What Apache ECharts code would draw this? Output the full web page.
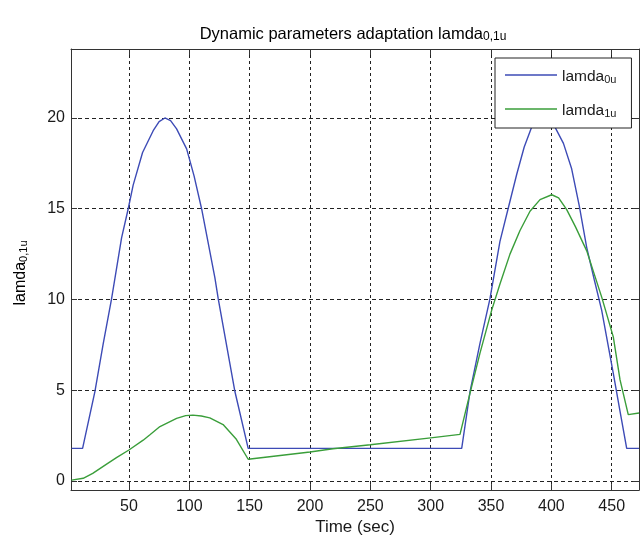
<!DOCTYPE html>
<html>
<head>
<meta charset="utf-8">
<script src="https://cdn.jsdelivr.net/npm/echarts@6/dist/echarts.min.js"></script>
<style>
  html, body { margin: 0; padding: 0; background: #fff; }
  #chart { width: 640px; height: 541px; }
</style>
</head>
<body>
<div id="chart"></div>
<script>
// lamda_0u trace: time (s) and value
const lamda0uTime = [2.5, 11.6, 21.8, 28.7, 35.6, 43.9, 49.4, 53.5, 61.3, 70.1, 75, 79.8, 84.5, 89.5, 97.8, 104, 110.2, 121.2, 124, 137.8, 148.8, 200, 250, 300, 325.7, 332.6, 340.8, 349.1, 357.4, 364.3, 371.3, 377.5, 383.7, 388.5, 393.4, 398, 403, 410, 416.8, 423, 429.3, 435.5, 441.7, 451.3, 457, 462.4, 472.6];
const lamda0uValue = [1.8, 1.8, 4.93, 7.57, 10.03, 13.4, 15.0, 16.3, 18.1, 19.3, 19.8, 20.0, 19.85, 19.4, 18.3, 16.8, 15.0, 11.2, 10.03, 4.93, 1.8, 1.8, 1.8, 1.8, 1.8, 4.93, 7.57, 10.03, 13.2, 15.04, 16.9, 18.4, 19.5, 19.9, 20.0, 19.9, 19.5, 18.6, 17.2, 15.2, 12.86, 11.1, 9.4, 5.93, 3.8, 1.8, 1.8];

// lamda_1u trace: time (s) and value
const lamda1uTime = [2.5, 12.1, 20, 31.5, 40, 50, 61.8, 67.4, 75.7, 89.5, 97, 103, 110, 117, 128, 139, 148.8, 200, 219, 250, 300, 324.3, 332.6, 340.8, 350.5, 357.4, 365.7, 374, 382.3, 390.6, 400.3, 406, 412.7, 420, 429.3, 441.7, 451.3, 456.9, 463.7, 472.6];
const lamda1uValue = [0.05, 0.15, 0.42, 0.93, 1.3, 1.71, 2.25, 2.55, 3.0, 3.45, 3.6, 3.63, 3.58, 3.48, 3.11, 2.3, 1.2, 1.6, 1.78, 2.0, 2.38, 2.57, 4.84, 7.03, 9.4, 10.85, 12.5, 13.8, 14.86, 15.5, 15.77, 15.6, 14.95, 14.0, 12.68, 10.13, 7.94, 5.57, 3.66, 3.75];

const xTicks = [50, 100, 150, 200, 250, 300, 350, 400, 450];
const yTicks = [0, 5, 10, 15, 20];

const seriesNames = ['lamda0u', 'lamda1u'];
const seriesSubs = { lamda0u: '0u', lamda1u: '1u' };

const zip = (xs, ys) => xs.map((x, i) => [x, ys[i]]);

const FONT = 'Liberation Sans, Arial, sans-serif';
const INK = '#1a1a1a';
const xRange = { min: 2, max: 472.6 };
const yRange = { min: -0.5, max: 23.8 };

const makeRich = (size, subSize) => ({
  a: { fontFamily: FONT, fontSize: size, color: INK, lineHeight: 20, verticalAlign: 'bottom' },
  s: { fontFamily: FONT, fontSize: subSize, color: INK, lineHeight: 6, verticalAlign: 'bottom' }
});

const gridLine = (dash) => ({
  show: true,
  lineStyle: { color: '#222', width: 1, type: dash }
});

const chart = echarts.init(document.getElementById('chart'), null, { renderer: 'canvas' });

chart.setOption({
  animation: false,
  backgroundColor: '#fff',
  grid: { left: 71, right: 1, top: 49, bottom: 47, containLabel: false },
  graphic: [
    {
      type: 'text', x: 353, y: 33,
      style: {
        text: '{a|Dynamic parameters adaptation lamda}{s|0,1u}',
        rich: makeRich(16.5, 12), align: 'center', verticalAlign: 'middle'
      }
    },
    {
      type: 'text', x: 19, y: 273, rotation: Math.PI / 2,
      style: {
        text: '{a|lamda}{s|0,1u}',
        rich: makeRich(16, 11), align: 'center', verticalAlign: 'middle'
      }
    }
  ],
  legend: {
    data: seriesNames,
    orient: 'vertical',
    left: 495, top: 58,
    padding: [11, 15, 9, 10],
    itemGap: 18,
    icon: 'rect',
    itemWidth: 52, itemHeight: 1.5,
    backgroundColor: '#fff',
    borderColor: '#222', borderWidth: 1, borderRadius: 0,
    formatter: (name) => '{a|lamda}{s|' + seriesSubs[name] + '}',
    textStyle: { rich: makeRich(15.5, 11) }
  },
  xAxis: [
    {
      type: 'value', position: 'bottom', ...xRange,
      name: 'Time (sec)', nameLocation: 'middle', nameGap: 27,
      nameTextStyle: { fontFamily: FONT, fontSize: 17, color: INK },
      axisLine: { show: true, onZero: false, lineStyle: { color: '#333', width: 1 } },
      axisTick: { show: true, inside: true, length: 6, customValues: xTicks, lineStyle: { color: '#333' } },
      axisLabel: { show: true, customValues: xTicks, margin: 8, fontFamily: FONT, fontSize: 16, color: INK },
      splitLine: gridLine([3, 3])
    },
    {
      type: 'value', position: 'top', ...xRange,
      axisLine: { show: true, onZero: false, lineStyle: { color: '#333', width: 1 } },
      axisTick: { show: true, inside: true, length: 6, customValues: xTicks, lineStyle: { color: '#333' } },
      axisLabel: { show: false },
      splitLine: { show: false }
    }
  ],
  yAxis: [
    {
      type: 'value', position: 'left', ...yRange,
      axisLine: { show: true, onZero: false, lineStyle: { color: '#333', width: 1 } },
      axisTick: { show: true, inside: true, length: 6, customValues: yTicks, lineStyle: { color: '#333' } },
      axisLabel: { show: true, customValues: yTicks, margin: 6, fontFamily: FONT, fontSize: 16, color: INK },
      splitLine: gridLine([4, 3])
    },
    {
      type: 'value', position: 'right', ...yRange,
      axisLine: { show: true, onZero: false, lineStyle: { color: '#333', width: 1 } },
      axisTick: { show: true, inside: true, length: 6, customValues: yTicks, lineStyle: { color: '#333' } },
      axisLabel: { show: false },
      splitLine: { show: false }
    }
  ],
  series: [
    {
      name: 'lamda0u', type: 'line', xAxisIndex: 0, yAxisIndex: 0,
      data: zip(lamda0uTime, lamda0uValue),
      symbol: 'none', smooth: false,
      lineStyle: { color: '#3d4bb6', width: 1.4 },
      itemStyle: { color: '#3d4bb6' }
    },
    {
      name: 'lamda1u', type: 'line', xAxisIndex: 0, yAxisIndex: 0,
      data: zip(lamda1uTime, lamda1uValue),
      symbol: 'none', smooth: false,
      lineStyle: { color: '#3a9e3a', width: 1.4 },
      itemStyle: { color: '#3a9e3a' }
    }
  ]
});
</script>
</body>
</html>
